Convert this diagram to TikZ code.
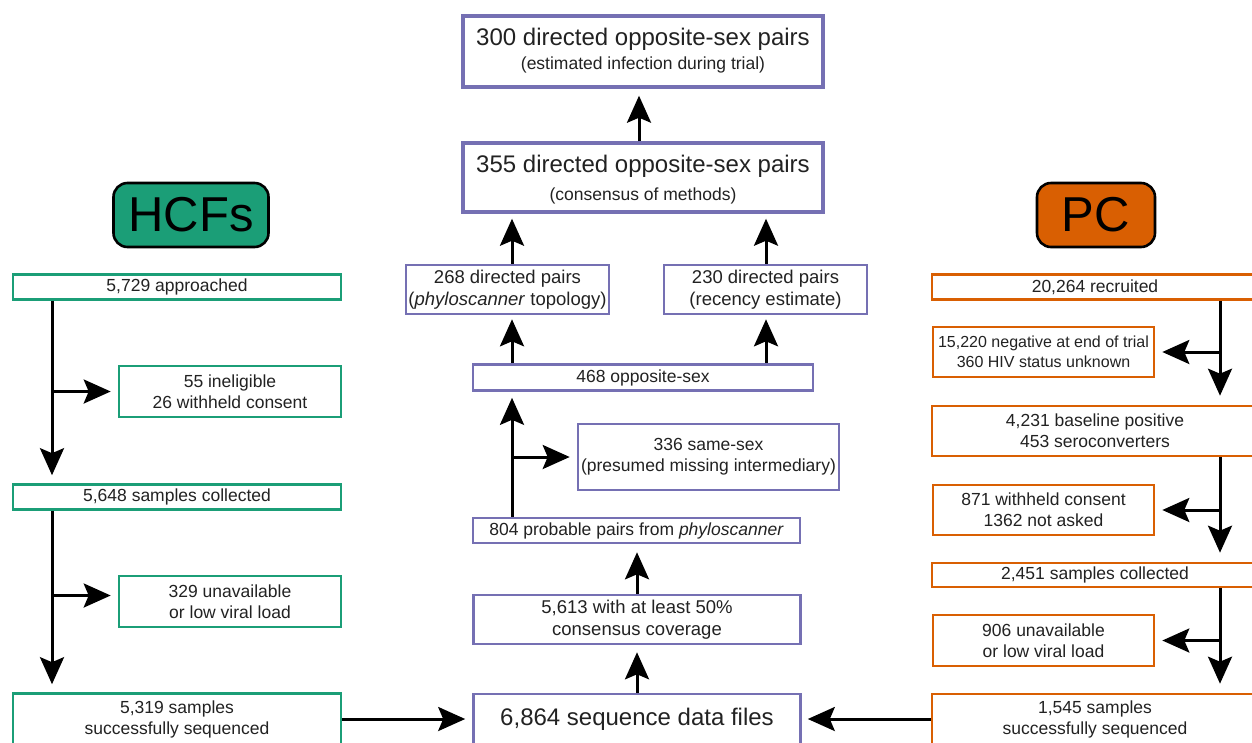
\documentclass[tikz,border=0pt]{standalone}
\usepackage{fontspec}
\setmainfont{Liberation Sans}
\usetikzlibrary{arrows.meta}
\definecolor{hgreen}{HTML}{1B9E77}
\definecolor{porange}{HTML}{D95F02}
\definecolor{cpurple}{HTML}{7570B3}
\definecolor{txt}{HTML}{222222}
\tikzset{
  box/.style={draw, rectangle, line width=2.6pt, fill=white, inner sep=0pt, align=center,
    font=\fontsize{17.5}{21}\selectfont, text=txt},
  gbox/.style={box, draw=hgreen},
  obox/.style={box, draw=porange},
  pbox/.style={box, draw=cpurple},
  tbox/.style={pbox, line width=3.4pt},
  mid/.style={font=\fontsize{18.5}{22}\selectfont},
  big/.style={font=\fontsize{24}{28}\selectfont},
  lbl/.style={draw=black, line width=2.6pt, rounded corners=14pt, inner sep=0pt,
    font=\fontsize{49}{52}\selectfont, text=black},
  ttl/.style={anchor=base, inner sep=0pt, text=txt},
  arr/.style={line width=3pt, draw=black, -{Stealth[length=27pt,width=24pt,inset=5pt]}},
}
\begin{document}
\begin{tikzpicture}[x=1pt,y=-1pt]
\useasboundingbox (0,0) rectangle (1252,742);
\clip (0,0) rectangle (1252,742);

% column labels
\node[lbl, fill=hgreen, minimum width=155pt, minimum height=64pt] (hcf) at (191,215) {HCFs};
\node[lbl, fill=porange, minimum width=118pt, minimum height=64pt] (pc) at (1096,215) {PC};

% left column (HCFs)
\node[gbox, minimum width=328pt, minimum height=25pt] (A1) at (177,287) {5,729 approached};
\node[gbox, minimum width=222pt, minimum height=51pt] (A2) at (230,391.5) {55 ineligible\\26 withheld consent};
\node[gbox, minimum width=328pt, minimum height=25pt] (A3) at (177,497) {5,648 samples collected};
\node[gbox, minimum width=222pt, minimum height=51pt] (A4) at (230,601.5) {329 unavailable\\or low viral load};
\node[gbox, minimum width=328pt, minimum height=51pt] (A5) at (177,719) {5,319 samples\\successfully sequenced};

% centre column
\node[tbox, minimum width=360pt, minimum height=71pt] (C1) at (643,51.5) {};
\node[ttl, big] (C1a) at (643,45) {300 directed opposite-sex pairs};
\node[ttl, font=\fontsize{17.5}{21}\selectfont] (C1b) at (643,69) {(estimated infection during trial)};
\node[tbox, minimum width=360pt, minimum height=69pt] (C2) at (643,177.5) {};
\node[ttl, big] (C2a) at (643,172) {355 directed opposite-sex pairs};
\node[ttl, font=\fontsize{17.5}{21}\selectfont] (C2b) at (643,200) {(consensus of methods)};
\node[pbox, mid, minimum width=203pt, minimum height=49pt] (C3) at (507.5,289.5) {268 directed pairs\\(\textit{phyloscanner} topology)};
\node[pbox, mid, minimum width=203pt, minimum height=49pt] (C4) at (765.5,289.5) {230 directed pairs\\(recency estimate)};
\node[pbox, minimum width=340pt, minimum height=26pt] (C5) at (643,377.5) {468 opposite-sex};
\node[pbox, minimum width=261pt, minimum height=66pt] (C6) at (708.5,457) {336 same-sex\\(presumed missing intermediary)};
\node[pbox, minimum width=327pt, minimum height=25pt] (C7) at (636.5,530.5) {804 probable pairs from \textit{phyloscanner}};
\node[pbox, mid, minimum width=327pt, minimum height=49pt] (C8) at (637,619.5) {5,613 with at least 50\%\\consensus coverage};
\node[pbox, big, minimum width=327pt, minimum height=50pt] (C9) at (637,719) {6,864 sequence data files};

% right column (PC)
\node[obox, minimum width=326pt, minimum height=25pt] (R0) at (1095,287) {20,264 recruited};
\node[obox, font=\fontsize{16}{20}\selectfont, minimum width=221pt, minimum height=50pt] (R1) at (1043.5,352) {15,220 negative at end of trial\\360 HIV status unknown};
\node[obox, minimum width=326pt, minimum height=50pt] (R2) at (1095,431) {4,231 baseline positive\\453 seroconverters};
\node[obox, minimum width=221pt, minimum height=50pt] (R4) at (1043.5,510) {871 withheld consent\\1362 not asked};
\node[obox, minimum width=326pt, minimum height=24pt] (R5) at (1095,575) {2,451 samples collected};
\node[obox, minimum width=221pt, minimum height=51pt] (R6) at (1043.5,640.5) {906 unavailable\\or low viral load};
\node[obox, minimum width=326pt, minimum height=50pt] (R7) at (1095,719) {1,545 samples\\successfully sequenced};

% trunk coordinates
\coordinate (TL) at (52,0);
\coordinate (TR) at (1220,0);
\coordinate (CL) at (512,0);
\coordinate (CR) at (766,0);
\coordinate (CM) at (637,0);
\coordinate (CT) at (639,0);
\coordinate (A4b) at ([yshift=6pt]A4.west);

% left connectors
\draw[arr, shorten >=8pt] (A1.south -| TL) -- (A3.north -| TL);
\draw[arr, shorten >=7pt] (A2.west -| TL) -- (A2.west);
\draw[arr, shorten >=8pt] (A3.south -| TL) -- (A5.north -| TL);
\draw[arr, shorten >=7pt] (A4b -| TL) -- (A4b);
\draw[arr, shorten >=7pt] (A5.east) -- (C9.west);

% right connectors
\draw[arr, shorten >=9pt] (R0.south -| TR) -- (R2.north -| TR);
\draw[arr, shorten >=7pt] (R1.east -| TR) -- (R1.east);
\draw[arr, shorten >=9pt] (R2.south -| TR) -- (R5.north -| TR);
\draw[arr, shorten >=7pt] (R4.east -| TR) -- (R4.east);
\draw[arr, shorten >=9pt] (R5.south -| TR) -- (R7.north -| TR);
\draw[arr, shorten >=7pt] (R6.east -| TR) -- (R6.east);
\draw[arr, shorten >=6pt] (R7.west) -- (C9.east);

% centre connectors
\draw[arr, shorten >=7pt] (C9.north -| CM) -- (C8.south -| CM);
\draw[arr, shorten >=8pt] (C8.north -| CM) -- (C7.south -| CM);
\draw[arr, shorten >=6pt] (C7.north -| CL) -- (C5.south -| CL);
\draw[arr, shorten >=7pt] (C6.west -| CL) -- (C6.west);
\draw[arr, shorten >=4pt] (C5.north -| CL) -- (C3.south -| CL);
\draw[arr, shorten >=4pt] (C5.north -| CR) -- (C4.south -| CR);
\draw[arr, shorten >=5pt] (C3.north -| CL) -- (C2.south -| CL);
\draw[arr, shorten >=5pt] (C4.north -| CR) -- (C2.south -| CR);
\draw[arr, shorten >=7pt] (C2.north -| CT) -- (C1.south -| CT);
\end{tikzpicture}
\end{document}
